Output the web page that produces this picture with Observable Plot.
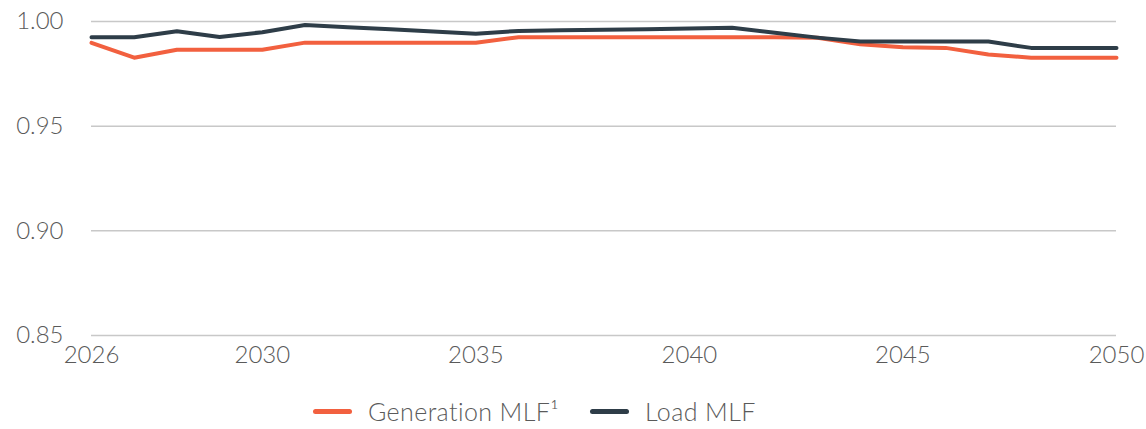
<!DOCTYPE html>
<html>
<head>
<meta charset="utf-8">
<script src="https://cdn.jsdelivr.net/npm/d3@7"></script>
<script src="https://cdn.jsdelivr.net/npm/@observablehq/plot@0.6"></script>
<style>
  html, body { margin: 0; padding: 0; background: #ffffff; }
  body { width: 1146px; height: 429px; overflow: hidden; font-family: Lato, "Open Sans", sans-serif; }
  #chart svg { display: block; }
  .legend { position: relative; height: 49px; width: 1146px; font-family: Lato, sans-serif; font-weight: 300; font-size: 25px; letter-spacing: 0.4px; color: #5a5a5a; }
  .item { position: absolute; top: 16px; display: flex; align-items: center; white-space: nowrap; }
  .sw { display: inline-block; width: 39px; height: 5px; border-radius: 3px; margin-right: 16px; }
</style>
</head>
<body>
<div id="chart"></div>
<div class="legend">
  <div class="item" style="left:313px"><span class="sw" style="background:#F2603F"></span><span>Generation MLF¹</span></div>
  <div class="item" style="left:590px"><span class="sw" style="background:#2E3D48"></span><span>Load MLF</span></div>
</div>
<script>
const years = [2026,2027,2028,2029,2030,2031,2032,2033,2034,2035,2036,2037,2038,2039,2040,2041,2042,2043,2044,2045,2046,2047,2048,2049,2050];
const generationMLF = [0.9898,0.9827,0.9865,0.9865,0.9865,0.9899,0.9899,0.9899,0.9899,0.9899,0.9925,0.9925,0.9925,0.9925,0.9925,0.9925,0.9925,0.9922,0.9891,0.9877,0.9874,0.9842,0.9827,0.9827,0.9827];
const loadMLF = [0.9925,0.9925,0.9953,0.9926,0.9949,0.9983,0.9973,0.9963,0.9952,0.9942,0.9955,0.9958,0.9960,0.9963,0.9966,0.9970,0.9946,0.9923,0.9904,0.9904,0.9904,0.9904,0.9874,0.9874,0.9874];
const yTicks = [0.85, 0.90, 0.95, 1.00];
const xTicks = [2026, 2030, 2035, 2040, 2045, 2050];

const genData = years.map((y, i) => ({year: y, value: generationMLF[i]}));
const loadData = years.map((y, i) => ({year: y, value: loadMLF[i]}));

const chart = Plot.plot({
  width: 1146,
  height: 380,
  marginLeft: 91,
  marginRight: 30,
  marginTop: 21,
  marginBottom: 45,
  style: {fontFamily: "Lato, sans-serif", fontSize: "24px", fontWeight: 300, color: "#5a5a5a", background: "#ffffff"},
  x: {domain: [2026, 2050], ticks: xTicks, tickFormat: d => String(d), tickSize: 0, tickPadding: 10, label: null},
  y: {domain: [0.85, 1.00], ticks: yTicks, tickFormat: d => d.toFixed(2), tickSize: 0, tickPadding: 28, label: null},
  marks: [
    Plot.ruleY(yTicks, {stroke: "#c8c8c8", strokeWidth: 1.5}),
    Plot.line(genData, {x: "year", y: "value", stroke: "#F2603F", strokeWidth: 4}),
    Plot.line(loadData, {x: "year", y: "value", stroke: "#2E3D48", strokeWidth: 4})
  ]
});
document.getElementById("chart").append(chart);
</script>
</body>
</html>
